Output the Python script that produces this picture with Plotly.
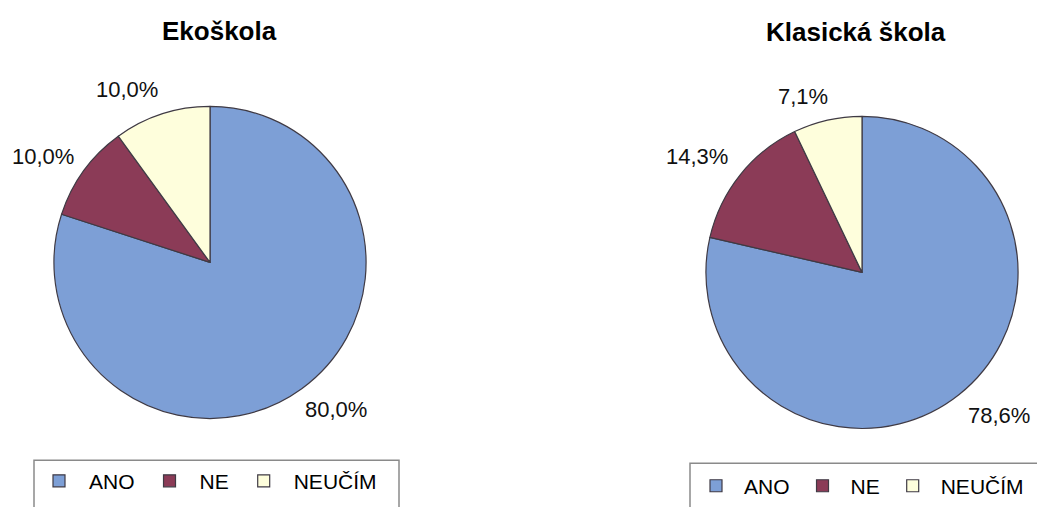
import plotly.graph_objects as go

# Survey answers and shares per school type
answers = ["ANO", "NE", "NEUČÍM"]
eko_values = [80.0, 10.0, 10.0]
klasicka_values = [78.6, 14.3, 7.1]
titles = ["Ekoškola", "Klasická škola"]
colors = ["#7d9fd6", "#8b3b57", "#fefedc"]

W, H = 1037, 507
FONT = "Arial, Liberation Sans, sans-serif"


def px_x(x):
    return x / W


def px_y(y):
    return 1 - y / H


def pie_domain(cx, cy, r):
    return dict(x=[px_x(cx - r), px_x(cx + r)], y=[px_y(cy + r), px_y(cy - r)])


def fmt(v):
    return f"{v:.1f}".replace(".", ",") + "%"


fig = go.Figure()

fig.add_trace(go.Pie(
    labels=answers, values=eko_values, sort=False, direction="clockwise",
    rotation=0, textinfo="none", hoverinfo="label+percent",
    marker=dict(colors=colors, line=dict(color="#3f3a44", width=1.2)),
    domain=pie_domain(210, 264, 157), legend="legend", legendgroup="eko",
))
fig.add_trace(go.Pie(
    labels=answers, values=klasicka_values, sort=False, direction="clockwise",
    rotation=0, textinfo="none", hoverinfo="label+percent",
    marker=dict(colors=colors, line=dict(color="#3f3a44", width=1.2)),
    domain=pie_domain(862, 274, 157), legend="legend2", legendgroup="klasicka",
))

annotations = []
# chart titles
for text, (x, y) in zip(titles, [(219, 31), (856, 32)]):
    annotations.append(dict(text=f"<b>{text}</b>", x=px_x(x), y=px_y(y),
                            xref="paper", yref="paper", showarrow=False,
                            xanchor="center", yanchor="middle",
                            font=dict(family=FONT, size=26, color="#000")))

# percentage labels beside each slice
eko_pos = [(336, 412), (43, 157), (127, 90)]
kla_pos = [(999, 418), (697, 157), (803, 97)]
for vals, positions in [(eko_values, eko_pos), (klasicka_values, kla_pos)]:
    for v, (x, y) in zip(vals, positions):
        annotations.append(dict(text=fmt(v), x=px_x(x), y=px_y(y),
                                xref="paper", yref="paper", showarrow=False,
                                xanchor="center", yanchor="middle",
                                font=dict(family=FONT, size=22, color="#111")))

# legend frames
shapes = [
    dict(type="rect", xref="paper", yref="paper",
         x0=px_x(34), x1=px_x(399), y0=px_y(530), y1=px_y(463),
         line=dict(color="#8a8a8a", width=1.5), fillcolor="rgba(0,0,0,0)"),
    dict(type="rect", xref="paper", yref="paper",
         x0=px_x(690), x1=px_x(1050), y0=px_y(530), y1=px_y(466),
         line=dict(color="#8a8a8a", width=1.5), fillcolor="rgba(0,0,0,0)"),
]

legend_common = dict(orientation="h", xanchor="left", yanchor="middle",
                     traceorder="normal",
                     bgcolor="rgba(0,0,0,0)", borderwidth=0,
                     font=dict(family=FONT, size=21, color="#000"),
                     itemclick=False, itemdoubleclick=False)

fig.update_layout(
    width=W, height=H,
    margin=dict(l=0, r=0, t=0, b=0),
    paper_bgcolor="white", plot_bgcolor="white",
    annotations=annotations, shapes=shapes,
    legend=dict(x=px_x(29), y=px_y(484), itemwidth=50, **legend_common),
    legend2=dict(x=px_x(688), y=px_y(489), itemwidth=46, **legend_common),
    showlegend=True,
)

fig.write_html("out.html")
